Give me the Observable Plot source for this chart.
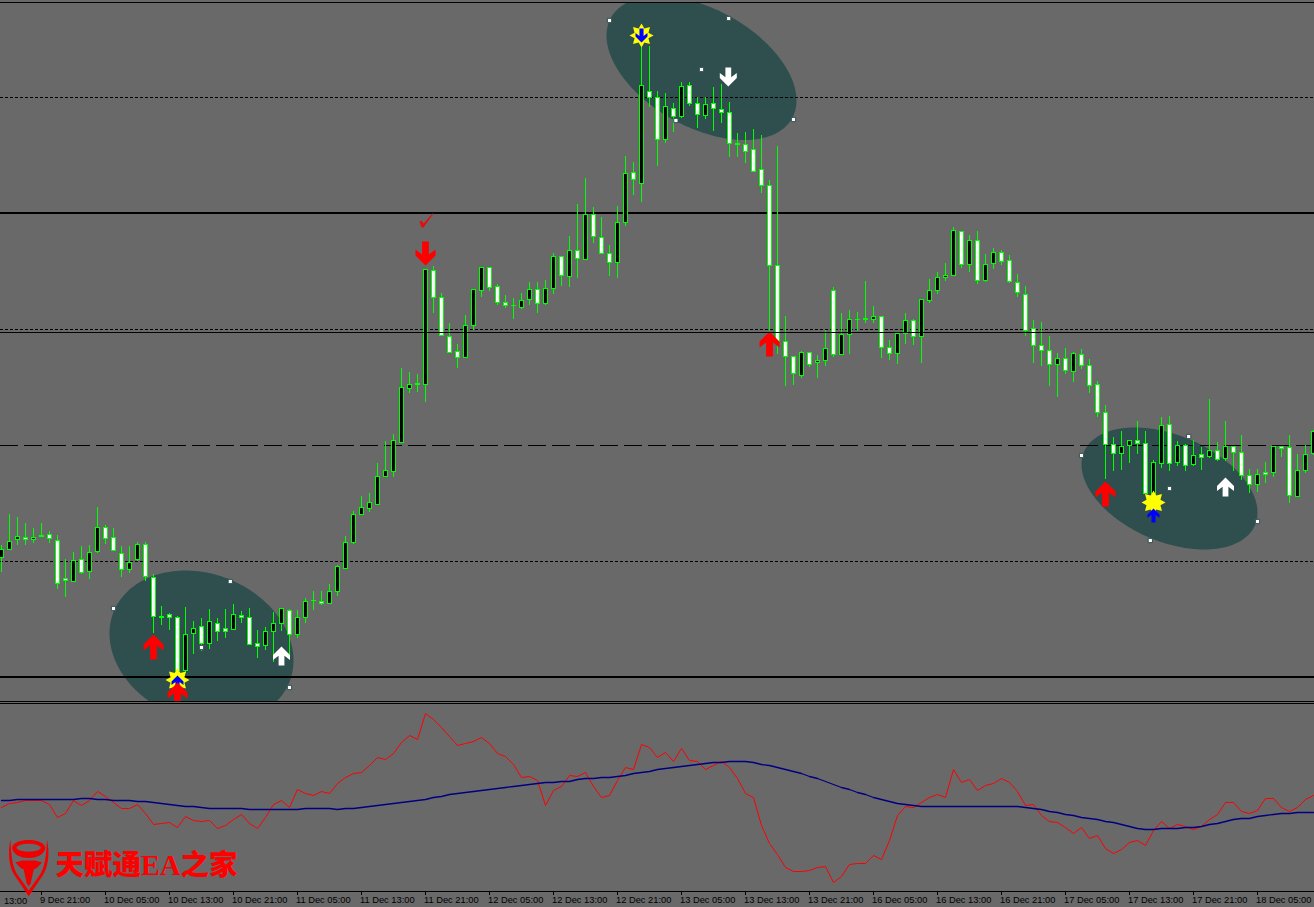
<!DOCTYPE html>
<html>
<head>
<meta charset="utf-8">
<title>Candlestick chart</title>
<style>
html,body{margin:0;padding:0;background:#696969;overflow:hidden}
svg{display:block}
</style>
<script src="https://cdn.jsdelivr.net/npm/d3@7"></script>
<script src="https://cdn.jsdelivr.net/npm/@observablehq/plot@0.6"></script>
</head>
<body>
<div id="chart"></div>
<script>
const bodyTop = [
549,541,536,537,537,535,534,540,578,560,
559,552,527,527,537,553,562,544,544,577,
616,614,617,634,628,626,621,623,628,614,
615,617,643,631,623,608,610,617,601,600,
601,591,566,542,514,507,502,476,470,440,
387,384,383,269,270,297,336,351,325,289,
267,267,286,302,305,300,289,289,288,256,
256,250,250,214,214,237,253,222,173,172,
85,91,97,106,108,86,85,103,104,103,
109,112,143,144,149,169,185,265,341,356,
352,352,360,348,290,334,319,319,318,316,
316,347,333,320,320,299,290,277,275,230,
231,240,240,264,252,252,260,282,294,328,
345,350,358,358,353,354,365,384,412,444,
446,440,440,443,462,425,424,445,445,455,
454,450,450,446,446,452,475,474,472,446,
446,447,470,454,431];
const bodyBottom = [
557,549,539,539,539,536,538,583,580,581,
572,571,551,538,550,569,569,559,576,616,
617,617,670,670,633,643,643,631,631,629,
617,644,646,645,631,623,634,634,617,600,
603,603,591,568,542,514,508,504,476,471,
442,388,384,384,297,335,352,357,357,325,
290,287,302,305,305,307,299,303,303,288,
275,276,258,259,236,253,262,262,222,179,
183,97,139,139,116,116,103,114,115,108,
112,143,144,151,171,185,265,341,356,373,
375,364,362,360,354,354,334,319,319,319,
347,353,353,333,336,336,300,290,277,275,
264,264,280,280,263,261,281,292,330,345,
350,364,364,370,371,365,385,412,444,453,
453,445,443,493,493,463,463,462,465,464,
457,456,459,458,452,475,484,484,474,472,
448,495,496,470,453];
const wickTop = [
545,514,517,523,528,523,531,535,559,552,
546,545,507,525,528,546,546,542,542,574,
606,613,616,607,621,618,609,618,609,604,
611,608,630,627,612,608,609,610,598,591,
591,584,565,536,511,496,493,463,441,434,
368,372,374,269,266,293,323,344,315,289,
267,267,284,295,298,293,282,282,280,253,
256,236,204,178,207,217,245,206,156,162,
36,46,91,93,103,82,82,97,97,87,
84,102,133,132,129,135,180,146,316,356,
351,352,355,330,287,313,310,312,281,306,
316,340,333,313,319,299,279,272,263,227,
231,235,231,254,248,250,255,274,286,320,
322,336,353,348,352,349,359,381,405,437,
431,440,421,431,460,417,416,441,444,440,
447,399,442,421,446,435,469,469,462,446,
446,435,454,445,430];
const wickBottom = [
572,549,545,545,543,537,543,589,597,582,
574,579,553,544,551,577,573,561,581,633,
625,630,672,673,654,651,649,641,638,630,
623,645,658,650,662,631,657,638,623,610,
605,604,596,568,544,515,512,504,476,477,
443,393,392,402,313,335,353,368,357,330,
297,291,305,308,319,309,305,313,305,294,
286,287,278,259,243,253,276,278,226,195,
202,107,166,143,132,118,106,128,119,131,
123,157,157,163,172,193,331,354,386,385,
378,367,378,366,357,354,354,331,323,323,
358,360,364,344,345,363,303,294,281,275,
268,272,284,282,269,265,283,297,336,363,
366,386,397,374,382,369,393,417,479,471,
470,463,454,494,495,468,471,466,471,466,
470,458,461,461,471,480,493,492,483,477,
457,503,496,473,455];
const candleColour = ("bbbwbbwwwb"+"wbbwwwbbww"+"wwwbbwbwwb"+"wwwbbbwbbb"+"wbbbbbbbbb"+
"bbbbwwwwbb"+"bwwwbbbwbb"+"wbwbwwwbbw"+"bwwbwbwwbw"+"wwwwwwwwww"+
"bwbbwbbbbb"+"wwbbwbbbbb"+"wbwbbwwwww"+"wwbwbwwwww"+"bbwwbbwbwb"+"wbwbwwwbwb"+"wwbbb");

const fastLine = [
807,803,802,800,800,800,804,817,813,800,805,800,791,796,802,808,808,804,813,824,
823,822,827,816,820,821,820,828,825,819,814,823,828,817,804,800,807,789,793,795,
791,793,783,777,773,772,765,757,759,753,742,735,739,713,719,727,736,745,743,741,
737,743,753,756,764,777,776,780,805,790,786,775,776,772,786,797,795,780,767,769,
744,747,757,752,761,748,760,761,769,765,761,767,778,793,797,825,843,854,867,871,
871,870,867,866,882,876,864,863,863,855,859,840,815,806,807,802,797,794,797,769,
782,779,790,785,783,778,782,791,805,804,815,821,822,827,833,827,838,835,848,853,
849,842,840,845,830,821,828,824,826,829,826,819,814,802,802,811,813,810,798,798,
807,811,807,799,795];
const slowLine = [
800,800,799,799,799,799,799,799,799,799,798,798,799,799,800,800,800,801,801,802,
803,804,805,806,806,807,808,808,808,808,808,809,809,809,809,809,809,809,808,808,
808,808,809,808,808,807,806,805,804,803,802,801,800,799,797,796,794,793,792,791,
790,789,788,787,786,785,784,783,782,782,781,781,779,778,778,777,777,776,775,773,
772,771,769,768,767,766,765,764,763,762,762,761,761,761,762,764,765,767,769,771,
773,776,778,781,784,787,789,792,794,797,799,801,803,804,805,806,806,806,806,806,
806,806,806,806,806,806,806,806,807,808,809,811,812,814,815,817,818,819,821,822,
824,826,828,829,829,828,828,828,827,827,826,824,823,821,819,818,818,816,815,814,
813,813,812,812,812];

const tickBars = [5,13,21,29,37,45,53,61,69,77,85,93,101,109,117,125,133,141,149,157];
const tickLabels = ["9 Dec 21:00","10 Dec 05:00","10 Dec 13:00","10 Dec 21:00",
"11 Dec 05:00","11 Dec 13:00","11 Dec 21:00","12 Dec 05:00","12 Dec 13:00","12 Dec 21:00",
"13 Dec 05:00","13 Dec 13:00","13 Dec 21:00","16 Dec 05:00","16 Dec 13:00","16 Dec 21:00",
"17 Dec 05:00","17 Dec 13:00","17 Dec 21:00","18 Dec 05:00"];
const leftEdgeLabel = ["13:00"];

const thickLevels = [212.5, 676.5];
const thinLevels = [2, 332, 701, 703, 891];
const dottedLevels = [97, 329, 561];
const dashedLevels = [445];

// [centre bar, centre level] of the three shaded ellipses
const ellipseA = [[25,646.5]];
const ellipseB = [[87.5,67.5]];
const ellipseC = [[146,488]];

// [bar, level]
const anchorSquares = [[14,608],[28.6,581],[36,687],[25,647],[76,20],[90.9,18],[87.5,69],[84.3,120],[99,119],[135,455],[148.4,436],[146,488],[143.6,540],[157,521]];
const redUpArrows = [[19,634],[22,682],[96,331],[138,481]];
const redDownArrows = [[53,241]];
const whiteUpArrows = [[35,646],[153,477]];
const whiteDownArrows = [[90.85,67]];
const starBursts = [[22,679.5],[80,35],[144,502]];
const blueUpArrows = [[22,675],[144,508]];
const blueDownArrows = [[80,28]];
const tickMarks = [[53,220]];

const watermark = ["天赋通EA之家"];

const bars = d3.range(165).map(i => ({i, top: bodyTop[i], bottom: bodyBottom[i], high: wickTop[i], low: wickBottom[i],
  colour: candleColour[i], fast: fastLine[i], slow: slowLine[i]}));

const poly = (ctx, pts) => { pts.forEach(([x,y],k) => k ? ctx.lineTo(x,y) : ctx.moveTo(x,y)); ctx.closePath(); };
const upArrow = (w,h) => ({draw(ctx){ const a=w/2, s=w*0.17;
  poly(ctx, [[0,0],[a,w*.5],[a,w*.8],[s,w*.55],[s,h],[-s,h],[-s,w*.55],[-a,w*.8],[-a,w*.5]]); }});
const downArrow = (w,h) => ({draw(ctx){ const a=w/2, s=w*0.17;
  poly(ctx, [[0,h],[a,h-w*.5],[a,h-w*.8],[s,h-w*.55],[s,0],[-s,0],[-s,h-w*.55],[-a,h-w*.8],[-a,h-w*.5]]); }});
const burst = (R,r,n) => ({draw(ctx){
  const pts=[]; for(let k=0;k<2*n;k++){const t=Math.PI*k/n - Math.PI/2, q=k%2?r:R; pts.push([q*Math.cos(t),q*Math.sin(t)]);}
  poly(ctx,pts);}});
const tiltedEllipse = (rx,ry,phase) => ({draw(ctx){
  poly(ctx, d3.range(180).map(k => { const t=k*Math.PI/90; return [rx*Math.cos(t), ry*Math.sin(t+phase*Math.PI/180)]; })); }});
const check = {draw(ctx){ poly(ctx,[[-6,1],[-4,0],[-2,3],[7,-7],[8,-7],[-2,7],[-4,7]]); }};
const logo = {draw(ctx){
  // shield band with horns
  ctx.moveTo(-18.3,-27);
  ctx.bezierCurveTo(-21,-14,-20,0,-14,9); ctx.lineTo(0,29.7); ctx.lineTo(14,9);
  ctx.bezierCurveTo(20,0,21,-14,18.3,-27);
  ctx.bezierCurveTo(17.5,-14,17,-2,12,7); ctx.lineTo(0,24); ctx.lineTo(-12,7);
  ctx.bezierCurveTo(-17,-2,-17.5,-14,-18.3,-27); ctx.closePath();
  // ring between the horns
  ctx.moveTo(-16.7,-18.7); ctx.bezierCurveTo(-15,-29,15,-29,16.7,-18.7); ctx.bezierCurveTo(15,-5,-15,-5,-16.7,-18.7); ctx.closePath();
  ctx.moveTo(12.3,-18.7); ctx.bezierCurveTo(10,-24,-10,-24,-12.3,-18.7); ctx.bezierCurveTo(-10,-13.5,10,-13.5,12.3,-18.7); ctx.closePath();
  // head
  poly(ctx,[[-13.3,-4],[-6.7,-6],[6.7,-6],[13.3,-4],[8.3,1.3],[5,3],[2,17],[0,19.7],[-2,17],[-5,3],[-8.3,1.3]]);
}};

const pt = { x: d => d[0], y: d => d[1] };
const marker = (data, symbol, fill, extra={}) => Plot.dot(data, {...pt, symbol, fill, stroke: "none", ...extra});

const chart = Plot.plot({
  width: 1314, height: 907,
  marginTop: 0, marginRight: 0, marginBottom: 16, marginLeft: 0,
  style: {background: "#696969", overflow: "hidden"},
  x: {domain: [-0.125, 164.125], axis: null},
  y: {domain: [0, 891], range: [0, 891], axis: null},
  marks: [
    marker(ellipseA, tiltedEllipse(92, 76.5, 10.1), "#2f4f4f"),
    marker(ellipseB, tiltedEllipse(95, 72, 26.8), "#2f4f4f"),
    marker(ellipseC, tiltedEllipse(88, 61, 23.2), "#2f4f4f"),
    Plot.ruleY(dottedLevels, {stroke: "#000", strokeWidth: 1, strokeDasharray: "3,2"}),
    Plot.ruleY(dashedLevels, {stroke: "#000", strokeWidth: 1, strokeDasharray: "18,6"}),
    Plot.ruleY(thickLevels, {stroke: "#000", strokeWidth: 2}),
    Plot.ruleX(bars, {x: "i", y1: "high", y2: "low", stroke: "#00ff00", strokeWidth: 1}),
    Plot.rect(bars.filter(d => d.colour === "b" && d.top !== d.bottom), {x1: d => d.i - .25, x2: d => d.i + .25, y1: "top", y2: "bottom", fill: "#000", stroke: "#00ff00", strokeWidth: 1, dx: .5, dy: .5}),
    Plot.rect(bars.filter(d => d.colour === "w" && d.top !== d.bottom), {x1: d => d.i - .25, x2: d => d.i + .25, y1: "top", y2: "bottom", fill: "#fff", stroke: "#00ff00", strokeWidth: 1, dx: .5, dy: .5}),
    Plot.ruleY(bars.filter(d => d.top === d.bottom), {x1: d => d.i - .25, x2: d => d.i + .375, y: "top", stroke: "#00ff00", strokeWidth: 1}),
    marker(anchorSquares, "square", "#fff", {r: 2.4, stroke: "#2f4f4f", strokeWidth: 1}),
    marker(starBursts, burst(12, 7.5, 8), "#ffff00"),
    marker(blueDownArrows, downArrow(12, 14), "#0000ff"),
    marker(blueUpArrows, upArrow(12, 14), "#0000ff"),
    marker(redUpArrows, upArrow(20, 25), "#ff0000"),
    marker(redDownArrows, downArrow(20, 24), "#ff0000"),
    marker(whiteUpArrows, upArrow(17, 19), "#ffffff"),
    marker(whiteDownArrows, downArrow(17, 19), "#ffffff"),
    marker(tickMarks, check, "#e01010"),
    Plot.rect([[0, 2]], {x1: -0.125, x2: 164.125, y1: d => d[0], y2: d => d[1], fill: "#696969"}),
    Plot.rect([[702, 891]], {x1: -0.125, x2: 164.125, y1: d => d[0], y2: d => d[1], fill: "#696969"}),
    Plot.ruleY(thinLevels, {stroke: "#000", strokeWidth: 1}),
    Plot.line(bars, {x: "i", y: "fast", stroke: "#ff0000", strokeWidth: 1}),
    Plot.line(bars, {x: "i", y: "slow", stroke: "#000080", strokeWidth: 1.3}),
    Plot.dot([[3.4, 866]], {...pt, symbol: logo, fill: "#f00000", stroke: "none"}),
    Plot.text(watermark, {x: 6.75, y: 865, text: d => d, textAnchor: "start", fill: "#ff0000", fontSize: 28.5, fontWeight: 900, fontFamily: "'Liberation Serif','Noto Sans CJK SC',serif"}),
    Plot.text(leftEdgeLabel, {x: 0.3, y: 901, text: d => d, textAnchor: "start", fill: "#000", fontSize: 9.3, fontFamily: "'Liberation Sans',sans-serif"}),
    Plot.axisX(tickBars, {anchor: "bottom", label: null, tickSize: 4, text: null, stroke: "#000"}),
    Plot.axisX(tickBars, {anchor: "bottom", label: null, tickSize: 0, tickPadding: 5, textAnchor: "start", dx: -1.5, fill: "#000", fontSize: 9.3, fontFamily: "'Liberation Sans',sans-serif", tickFormat: i => tickLabels[tickBars.indexOf(i)]})
  ]
});
document.getElementById("chart").append(chart);
</script>
</body>
</html>
